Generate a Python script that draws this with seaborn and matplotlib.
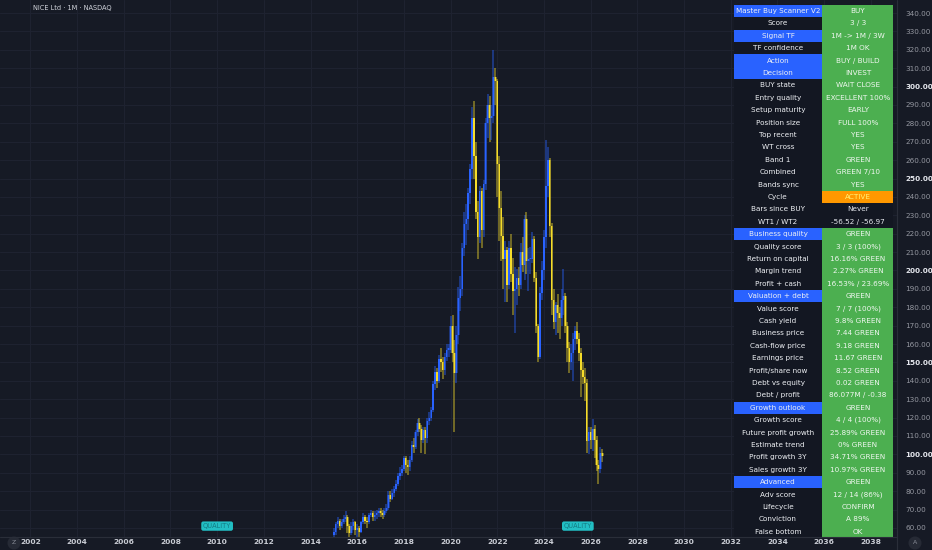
import numpy as np
import pandas as pd
import matplotlib
matplotlib.use("Agg")
import matplotlib.pyplot as plt
import seaborn as sns
from matplotlib.patches import Rectangle, Circle

# ---------------- data (monthly candles, NICE Ltd) ----------------
first_open = 56
close_2015 = [58, 62, 64, 61, 63, 65, 66, 61, 57, 61, 63, 59]
high_2015 = [60, 63, 66, 65, 65, 67, 69, 67, 62, 63, 65, 64]
low_2015 = [54, 56, 60, 59, 60, 62, 63, 57, 54, 56, 59, 56]

close_2016 = [60, 58, 63, 66, 64, 63, 67, 68, 66, 67, 68, 69]
high_2016 = [62, 61, 64, 68, 67, 66, 68, 70, 69, 69, 70, 71]
low_2016 = [55, 55, 57, 62, 62, 60, 62, 66, 64, 64, 65, 66]

close_2017 = [68, 67, 69, 71, 78, 76, 79, 81, 84, 88, 90, 92]
high_2017 = [71, 70, 71, 73, 80, 80, 81, 83, 86, 90, 93, 94]
low_2017 = [66, 65, 66, 68, 70, 74, 75, 77, 80, 83, 86, 88]

close_2018 = [98, 94, 93, 97, 105, 104, 112, 117, 114, 108, 113, 109]
high_2018 = [99, 99, 97, 99, 107, 109, 113, 119, 120, 116, 115, 115]
low_2018 = [91, 90, 89, 91, 96, 101, 103, 110, 112, 101, 106, 100]

close_2019 = [118, 120, 124, 138, 145, 140, 152, 150, 146, 153, 157, 157]
high_2019 = [120, 123, 126, 140, 148, 147, 154, 158, 153, 155, 160, 160]
low_2019 = [106, 116, 118, 123, 135, 136, 139, 145, 141, 143, 151, 153]

close_2020 = [170, 155, 144, 165, 185, 190, 212, 225, 228, 242, 255, 283]
high_2020 = [175, 176, 162, 170, 191, 197, 215, 232, 236, 245, 258, 289]
low_2020 = [155, 150, 112, 139, 160, 178, 186, 208, 214, 222, 236, 250]

close_2021 = [262, 232, 218, 243, 222, 247, 280, 290, 283, 284, 305, 303]
high_2021 = [292, 270, 238, 246, 245, 249, 283, 296, 295, 290, 320, 310]
low_2021 = [250, 228, 206, 215, 212, 218, 244, 272, 270, 271, 280, 290]

close_2022 = [258, 234, 219, 206, 211, 192, 212, 198, 189, 190, 196, 192]
high_2022 = [304, 262, 243, 229, 216, 213, 216, 220, 207, 202, 201, 202]
low_2022 = [240, 216, 205, 190, 183, 183, 190, 194, 176, 166, 181, 186]

close_2023 = [210, 203, 228, 205, 206, 206, 217, 196, 170, 153, 188, 200]
high_2023 = [215, 218, 230, 232, 212, 213, 221, 219, 199, 171, 191, 205]
low_2023 = [190, 199, 195, 198, 189, 198, 204, 194, 166, 150, 152, 184]

close_2024 = [218, 246, 260, 224, 184, 172, 181, 177, 174, 184, 186, 170]
high_2024 = [222, 271, 267, 261, 226, 190, 183, 187, 180, 190, 201, 188]
low_2024 = [195, 212, 240, 218, 176, 168, 165, 166, 163, 170, 176, 166]

close_2025 = [158, 150, 155, 163, 167, 163, 155, 146, 142, 139, 107, 112]
high_2025 = [172, 161, 160, 166, 170, 172, 166, 158, 150, 147, 141, 115]
low_2025 = [150, 144, 146, 140, 157, 160, 151, 131, 138, 129, 101, 100]

close_2026 = [108, 114, 108, 94, 92, 101, 99]
high_2026 = [115, 119, 116, 110, 97, 104, 103]
low_2026 = [103, 102, 98, 91, 84, 90, 96]

years = list(range(2015, 2027))
price_ticks = list(range(60, 341, 10))
year_ticks = list(range(2002, 2039, 2))

table_labels = ["Master Buy Scanner V2", "Score", "Signal TF", "TF confidence", "Action",
                "Decision", "BUY state", "Entry quality", "Setup maturity", "Position size",
                "Top recent", "WT cross", "Band 1", "Combined", "Bands sync", "Cycle",
                "Bars since BUY", "WT1 / WT2", "Business quality", "Quality score",
                "Return on capital", "Margin trend", "Profit + cash", "Valuation + debt",
                "Value score", "Cash yield", "Business price", "Cash-flow price",
                "Earnings price", "Profit/share now", "Debt vs equity", "Debt / profit",
                "Growth outlook", "Growth score", "Future profit growth", "Estimate trend",
                "Profit growth 3Y", "Sales growth 3Y", "Advanced", "Adv score", "Lifecycle",
                "Conviction", "False bottom"]
table_values = ["BUY", "3 / 3", "1M -> 1M / 3W", "1M OK", "BUY / BUILD", "INVEST",
                "WAIT CLOSE", "EXCELLENT 100%", "EARLY", "FULL 100%", "YES", "YES", "GREEN",
                "GREEN 7/10", "YES", "ACTIVE", "Never", "-56.52 / -56.97", "GREEN",
                "3 / 3 (100%)", "16.16% GREEN", "2.27% GREEN", "16.53% / 23.69%", "GREEN",
                "7 / 7 (100%)", "9.8% GREEN", "7.44 GREEN", "9.18 GREEN", "11.67 GREEN",
                "8.52 GREEN", "0.02 GREEN", "86.077M / -0.38", "GREEN", "4 / 4 (100%)",
                "25.89% GREEN", "0% GREEN", "34.71% GREEN", "10.97% GREEN", "GREEN",
                "12 / 14 (86%)", "CONFIRM", "A 89%", "OK"]
header_rows = ["Master Buy Scanner V2", "Signal TF", "Action", "Decision", "Business quality",
               "Valuation + debt", "Growth outlook", "Advanced"]
value_state = (["green"] * 15 + ["orange", "none", "none"] + ["green"] * 25)

# ---------------- assemble frame ----------------
rows = []
for y in years:
    c = globals()[f"close_{y}"]
    h = globals()[f"high_{y}"]
    l = globals()[f"low_{y}"]
    for m in range(len(c)):
        rows.append({"t": y + m / 12.0, "close": c[m], "high": h[m], "low": l[m]})
df = pd.DataFrame(rows)
df["open"] = [first_open] + df["close"].tolist()[:-1]
df["up"] = df["close"] >= df["open"]

# ---------------- style ----------------
BG = "#161a25"
GRID = "#1f2331"
BLUE = "#2962ff"
YEL = "#f5dc2a"
sns.set_theme(style="dark")
plt.rcParams['font.family'] = ['DejaVu Sans']

fig = plt.figure(figsize=(9.32, 5.5), dpi=100, facecolor=BG)
ax = fig.add_axes([0, 13 / 550, 897 / 932, 537 / 550])
ax.set_facecolor(BG)
ax.set_xlim(2000.70, 2039.12)
ax.set_ylim(55.07, 347.07)

ax.set_xticks(year_ticks)
ax.set_xticklabels([str(y) for y in year_ticks])
ax.set_yticks(price_ticks)
ax.set_yticklabels([f"{v:.2f}" for v in price_ticks])
ax.yaxis.tick_right()
ax.tick_params(axis="x", length=0, pad=1.2, labelsize=5.4, colors="#c9ccd4")
ax.tick_params(axis="y", length=0, pad=6, labelsize=5.2, colors="#9598a1")
for lab, v in zip(ax.get_yticklabels(), price_ticks):
    if v % 50 == 0:
        lab.set_color("#e6e8ee")
        lab.set_fontweight("bold")
for lab in ax.get_xticklabels():
    lab.set_fontweight("bold")
ax.grid(True, color=GRID, lw=0.7)
for s in ax.spines.values():
    s.set_visible(False)

# candles
colors = np.where(df["up"], BLUE, YEL)
ax.vlines(df["t"], df["low"], df["high"], colors=colors, lw=1.3, alpha=0.45, zorder=3)
body_lo = np.minimum(df["open"], df["close"])
body_h = np.abs(df["close"] - df["open"]).clip(lower=0.6)
ax.bar(df["t"], body_h, bottom=body_lo, width=0.1, color=colors, alpha=0.4, lw=0, zorder=3)
ax.bar(df["t"], body_h, bottom=body_lo, width=0.055, color=colors, alpha=1.0, lw=0, zorder=4)

# QUALITY labels
for tx in [2010.0, 2025.45]:
    ax.text(tx, 61, "QUALITY", ha="center", va="center", fontsize=4.8, color="#137a82",
            zorder=6, bbox=dict(boxstyle="round,pad=0.25,rounding_size=0.3", fc="#22bfc4", ec="none"))

# ---------------- overlay (pixel coords) ----------------
ov = fig.add_axes([0, 0, 1, 1])
ov.set_xlim(0, 932)
ov.set_ylim(550, 0)
ov.axis("off")
ov.patch.set_alpha(0)

ov.plot([897, 897], [0, 550], color="#2a2e39", lw=0.8)
ov.plot([0, 897], [537, 537], color="#2a2e39", lw=0.8)
ov.text(33, 8, "NICE Ltd · 1M · NASDAQ", fontsize=4.8, color="#d1d4dc", va="center", ha="left")

ov.add_patch(Circle((14, 543), 6.5, fc="#262a35", ec="none"))
ov.text(14, 543, "Z", fontsize=4.5, color="#8a8e99", ha="center", va="center")
ov.add_patch(Circle((915, 543), 6.5, fc="#262a35", ec="none"))
ov.text(915, 543, "A", fontsize=4.5, color="#8a8e99", ha="center", va="center")

row_h = 12.40
top = 4.8
lx0, lx1 = 734, 822
vx0, vx1 = 823, 893
for i, (lab, val, st) in enumerate(zip(table_labels, table_values, value_state)):
    y0 = top + i * row_h
    yc = y0 + row_h / 2
    if lab in header_rows:
        ov.add_patch(Rectangle((lx0, y0), lx1 - lx0, row_h, fc=BLUE, ec="none"))
    else:
        ov.add_patch(Rectangle((lx0, y0), lx1 - lx0, row_h, fc="#131722", ec="none"))
    if st == "green":
        ov.add_patch(Rectangle((vx0 - 1, y0), vx1 - vx0 + 1, row_h, fc="#4caf50", ec="none"))
        vcol = "#f0f7f0"
    elif st == "orange":
        ov.add_patch(Rectangle((vx0 - 1, y0), vx1 - vx0 + 1, row_h, fc="#ff9800", ec="none"))
        vcol = "#fff176"
    else:
        ov.add_patch(Rectangle((vx0 - 1, y0), vx1 - vx0 + 1, row_h, fc="#131722", ec="none"))
        vcol = "#e6e8ee"
    ov.text((lx0 + lx1) / 2, yc, lab, fontsize=5.2, color="#eef0f4", ha="center", va="center")
    ov.text((vx0 + vx1) / 2, yc, val, fontsize=5.2, color=vcol, ha="center", va="center")

fig.savefig("out.png", dpi=100, facecolor=BG)
